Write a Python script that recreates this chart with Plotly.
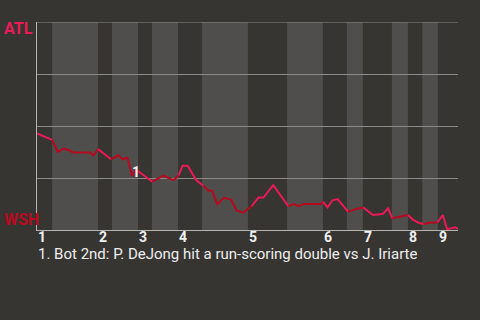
import plotly.graph_objects as go

# game progress (0-100) and ATL win probability (%)
progress = [0, 1.9, 2.9, 3.6, 4.9, 6.4, 7.4, 8.6, 12.6, 13.4, 14.5, 16.2, 17.6, 19.3, 20.4, 21.5,
            22.6, 23.5, 26.1, 27.4, 30.0, 32.4, 33.6, 34.6, 35.8, 37.8, 39.5, 40.7, 41.6, 42.8,
            44.4, 46.1, 47.4, 49.0, 51.0, 52.6, 53.8, 56.1, 59.7, 61.0, 62.2, 63.4, 67.5, 67.9,
            69.0, 70.2, 71.4, 73.9, 75.3, 77.5, 79.8, 81.0, 82.2, 83.4, 84.4, 85.8, 88.1, 89.3,
            90.6, 91.8, 93.2, 95.1, 96.4, 97.4, 98.7, 99.4, 100.0]
atl_wp = [46.4, 44.9, 44.1, 43.3, 37.6, 39.1, 38.5, 37.3, 37.3, 35.8, 38.9, 36.1, 34.0, 35.9, 34.0, 34.7,
          26.0, 29.1, 24.9, 23.2, 26.1, 24.0, 26.1, 30.9, 30.9, 24.0, 21.3, 19.0, 18.9, 12.4,
          15.5, 14.6, 9.4, 8.3, 11.5, 15.6, 15.6, 21.6, 11.5, 12.5, 11.5, 12.5, 12.5, 13.6,
          10.9, 14.3, 14.9, 8.8, 9.8, 10.8, 7.2, 7.5, 7.8, 10.4, 5.6, 6.3, 7.2, 5.0,
          3.5, 2.9, 3.5, 3.6, 7.2, 0.4, 1.1, 1.3, 0.5]

inning_labels = ["1", "2", "3", "4", "5", "6", "7", "8", "9"]
top_starts = [0, 14.5, 24.0, 33.5, 50.1, 67.9, 77.4, 88.1, 95.2]
bottom_starts = [3.6, 17.8, 27.3, 39.2, 59.4, 73.6, 84.3, 91.5]
game_end = 100.0

event_index = 16
event_label = "1"
caption = "1. Bot 2nd: P. DeJong hit a run-scoring double vs J. Iriarte"

BG = "#373532"
BAND = "#4f4e4c"
GRID = "#8c8b88"
ATL_C = "#ea1a57"
WSH_C = "#b80a1e"

fig = go.Figure()

shapes = []
for i, b in enumerate(bottom_starts):
    end = top_starts[i + 1] if i + 1 < len(top_starts) else game_end
    shapes.append(dict(type="rect", xref="x", yref="paper", x0=b, x1=end, y0=0, y1=1,
                       fillcolor=BAND, line=dict(width=0), layer="below"))
shapes.append(dict(type="line", xref="paper", yref="y", x0=0, x1=1, y0=100, y1=100,
                   line=dict(color=GRID, width=1), layer="above"))

def batting_top(xm):
    halves = sorted([(s, True) for s in top_starts] + [(s, False) for s in bottom_starts])
    cur = True
    for s, t in halves:
        if xm >= s:
            cur = t
    return cur

runs = []
for i in range(len(progress) - 1):
    top = batting_top((progress[i] + progress[i + 1]) / 2)
    if runs and runs[-1][0] == top:
        runs[-1][1].append(i + 1)
    else:
        runs.append([top, [i, i + 1]])

for top, idx in runs:
    fig.add_trace(go.Scatter(
        x=[progress[k] for k in idx], y=[atl_wp[k] for k in idx],
        mode="lines", line=dict(color=ATL_C if top else WSH_C, width=2),
        hoverinfo="skip", showlegend=False))

annotations = [
    dict(x=0, y=1, xref="paper", yref="paper", text="<b>ATL</b>", showarrow=False,
         xanchor="left", yanchor="middle", xshift=-35, yshift=-6,
         font=dict(family="Roboto", size=16, color=ATL_C)),
    dict(x=0, y=0, xref="paper", yref="paper", text="<b>WSH</b>", showarrow=False,
         xanchor="left", yanchor="middle", xshift=-35, yshift=11,
         font=dict(family="Roboto", size=16, color=WSH_C)),
    dict(x=progress[event_index], y=atl_wp[event_index], xref="x", yref="y",
         text="<b>" + event_label + "</b>",
         showarrow=False, xanchor="center", yanchor="middle", xshift=4, yshift=4,
         font=dict(family="Roboto", size=14, color="#f2f2f2")),
    dict(x=0, y=0, xref="paper", yref="paper", text=caption, showarrow=False,
         xanchor="left", yanchor="middle", xshift=-1, yshift=-24, height=16,
         font=dict(family="Roboto", size=15, color="#eeeeee")),
]
for lab, s in zip(inning_labels, top_starts):
    annotations.append(dict(x=s, y=0, xref="x", yref="y", text="<b>" + lab + "</b>", showarrow=False,
                            xanchor="left", yanchor="middle", yshift=-6, xshift=-1, height=13,
                            font=dict(family="Roboto", size=14, color="#f0f0f0")))

fig.update_layout(
    width=480, height=320,
    margin=dict(l=37, r=22, t=22, b=90),
    paper_bgcolor=BG, plot_bgcolor=BG,
    shapes=shapes, annotations=annotations,
    xaxis=dict(range=[0, game_end], showgrid=False, zeroline=False, showticklabels=False,
               showline=True, linecolor="#b5b4b1", linewidth=1, fixedrange=True),
    yaxis=dict(range=[0, 100], tickvals=[0, 25, 50, 75, 100], showgrid=True, gridcolor=GRID,
               gridwidth=1, zeroline=False, showticklabels=False, showline=True,
               linecolor="#b5b4b1", linewidth=1, fixedrange=True),
    hovermode=False,
)

fig.write_html("out.html", config={"displayModeBar": False})
